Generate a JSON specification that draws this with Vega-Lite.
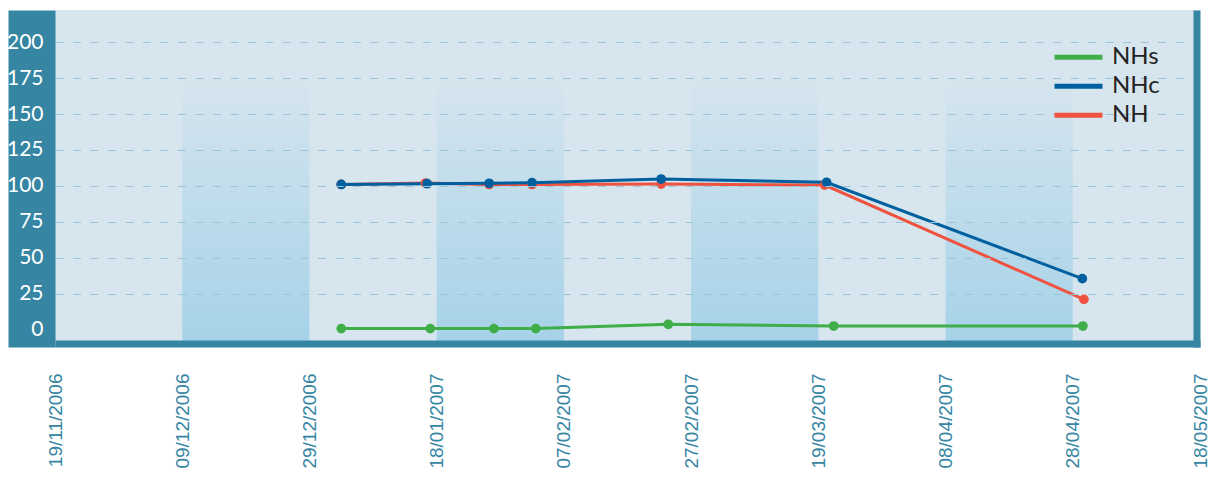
{
  "$schema": "https://vega.github.io/schema/vega-lite/v6.json",
  "autosize": "none",
  "width": 1145,
  "height": 337,
  "padding": {"left": 55, "top": 10, "right": 11, "bottom": 130},
  "background": "white",
  "config": {
    "view": {"fill": "#d7e5ee", "stroke": null},
    "axisX": {
      "offset": -3.5,
      "domain": true,
      "domainColor": "#3585a3",
      "domainWidth": 7,
      "ticks": false,
      "tickSize": 0,
      "grid": false,
      "format": "%d/%m/%Y",
      "labelAngle": -90,
      "labelColor": "#3585a3",
      "labelFont": "Liberation Sans",
      "labelFontSize": 19,
      "labelPadding": 29.5,
      "labelOverlap": false,
      "labelFlush": false,
      "labelBound": false
    }
  },
  "datasets": {
    "bands": [
      {"start": "2006-12-09T00:00", "end": "2006-12-29T00:00"},
      {"start": "2007-01-18T00:00", "end": "2007-02-07T00:00"},
      {"start": "2007-02-27T00:00", "end": "2007-03-19T00:00"},
      {"start": "2007-04-08T00:00", "end": "2007-04-28T00:00"}
    ],
    "series": [
      {"series": "NH", "date": "2007-01-03T00:00", "value": 101},
      {"series": "NH", "date": "2007-01-16T06:00", "value": 102},
      {"series": "NH", "date": "2007-01-26T06:00", "value": 101},
      {"series": "NH", "date": "2007-02-02T00:00", "value": 101},
      {"series": "NH", "date": "2007-02-22T07:00", "value": 101.3},
      {"series": "NH", "date": "2007-03-20T00:00", "value": 100.6},
      {"series": "NH", "date": "2007-04-29T18:00", "value": 21},
      {"series": "NHc", "date": "2007-01-03T00:00", "value": 101},
      {"series": "NHc", "date": "2007-01-16T12:00", "value": 101.5},
      {"series": "NHc", "date": "2007-01-26T06:00", "value": 101.8},
      {"series": "NHc", "date": "2007-02-02T00:00", "value": 102.2},
      {"series": "NHc", "date": "2007-02-22T07:00", "value": 104.8},
      {"series": "NHc", "date": "2007-03-20T07:00", "value": 102.5},
      {"series": "NHc", "date": "2007-04-29T12:00", "value": 35.4},
      {"series": "NHs", "date": "2007-01-03T00:00", "value": 0.6},
      {"series": "NHs", "date": "2007-01-17T00:00", "value": 0.6},
      {"series": "NHs", "date": "2007-01-27T00:00", "value": 0.6},
      {"series": "NHs", "date": "2007-02-02T14:00", "value": 0.6},
      {"series": "NHs", "date": "2007-02-23T10:00", "value": 3.6},
      {"series": "NHs", "date": "2007-03-21T10:00", "value": 2.4},
      {"series": "NHs", "date": "2007-04-29T14:00", "value": 2.4}
    ]
  },
  "resolve": {"axis": {"y": "independent"}},
  "layer": [
    {
      "data": {"name": "bands"},
      "mark": {
        "type": "rect",
        "fill": {
          "gradient": "linear",
          "x1": 0, "y1": 0, "x2": 0, "y2": 1,
          "stops": [
            {"offset": 0, "color": "#d7e5ee"},
            {"offset": 0.2, "color": "#d6e5ee"},
            {"offset": 1, "color": "#a5d2e8"}
          ]
        }
      },
      "encoding": {
        "x": {
          "field": "start", "type": "temporal",
          "scale": {
            "domain": [{"year": 2006, "month": 11, "date": 19}, {"year": 2007, "month": 5, "date": 18}],
            "nice": false
          },
          "axis": {
            "title": null,
            "zindex": 2,
            "values": [
              {"year": 2006, "month": 11, "date": 19},
              {"year": 2006, "month": 12, "date": 9},
              {"year": 2006, "month": 12, "date": 29},
              {"year": 2007, "month": 1, "date": 18},
              {"year": 2007, "month": 2, "date": 7},
              {"year": 2007, "month": 2, "date": 27},
              {"year": 2007, "month": 3, "date": 19},
              {"year": 2007, "month": 4, "date": 8},
              {"year": 2007, "month": 4, "date": 28},
              {"year": 2007, "month": 5, "date": 18}
            ]
          }
        },
        "x2": {"field": "end"}
      }
    },
    {
      "data": {"name": "series"},
      "mark": {"type": "line", "strokeWidth": 3, "interpolate": "linear"},
      "encoding": {
        "x": {
          "field": "date", "type": "temporal",
          "axis": {
            "title": null,
            "zindex": 2,
            "values": [
              {"year": 2006, "month": 11, "date": 19},
              {"year": 2006, "month": 12, "date": 9},
              {"year": 2006, "month": 12, "date": 29},
              {"year": 2007, "month": 1, "date": 18},
              {"year": 2007, "month": 2, "date": 7},
              {"year": 2007, "month": 2, "date": 27},
              {"year": 2007, "month": 3, "date": 19},
              {"year": 2007, "month": 4, "date": 8},
              {"year": 2007, "month": 4, "date": 28},
              {"year": 2007, "month": 5, "date": 18}
            ]
          }
        },
        "y": {
          "field": "value", "type": "quantitative",
          "scale": {"domain": [-12.2, 222.5], "nice": false, "zero": false},
          "axis": {
            "orient": "left",
            "offset": 23.5,
            "domain": true,
            "domainColor": "#3585a3",
            "domainWidth": 47,
            "ticks": false,
            "labels": false,
            "values": [0, 25, 50, 75, 100, 125, 150, 175, 200],
            "grid": true,
            "gridColor": "#9ac6db",
            "gridDash": [8, 9.5],
            "gridWidth": 1,
            "gridOpacity": {"condition": {"test": "datum.value === 0", "value": 0}, "value": 1},
            "title": null,
            "zindex": 1
          }
        },
        "color": {
          "field": "series", "type": "nominal",
          "scale": {"domain": ["NHs", "NHc", "NH"], "range": ["#3fae49", "#00609f", "#ef533f"]},
          "legend": {
            "orient": "none",
            "legendX": 997,
            "legendY": 32.75,
            "title": null,
            "padding": 0,
            "symbolType": "stroke",
            "symbolSize": 2304,
            "symbolStrokeWidth": 5,
            "labelFont": "Lato",
            "labelFontSize": 24,
            "labelColor": "#231f20",
            "labelOffset": 7,
            "clipHeight": 29,
            "rowPadding": 0,
            "zindex": 3
          }
        },
        "detail": {"field": "series"}
      }
    },
    {
      "data": {"name": "series"},
      "mark": {"type": "point", "filled": true, "opacity": 1, "size": 95},
      "encoding": {
        "x": {
          "field": "date", "type": "temporal",
          "axis": {
            "title": null,
            "zindex": 2,
            "values": [
              {"year": 2006, "month": 11, "date": 19},
              {"year": 2006, "month": 12, "date": 9},
              {"year": 2006, "month": 12, "date": 29},
              {"year": 2007, "month": 1, "date": 18},
              {"year": 2007, "month": 2, "date": 7},
              {"year": 2007, "month": 2, "date": 27},
              {"year": 2007, "month": 3, "date": 19},
              {"year": 2007, "month": 4, "date": 8},
              {"year": 2007, "month": 4, "date": 28},
              {"year": 2007, "month": 5, "date": 18}
            ]
          }
        },
        "y": {
          "field": "value", "type": "quantitative",
          "axis": {
            "orient": "right",
            "offset": -3.5,
            "domain": true,
            "domainColor": "#3585a3",
            "domainWidth": 7,
            "ticks": false,
            "tickSize": 0,
            "labels": true,
            "labelAlign": "right",
            "labelPadding": -1153.5,
            "labelColor": "white",
            "labelFont": "Lato",
            "labelFontSize": 21,
            "labelOverlap": false,
            "labelFlush": false,
            "labelBound": false,
            "values": [0, 25, 50, 75, 100, 125, 150, 175, 200],
            "grid": false,
            "title": null,
            "zindex": 2
          }
        },
        "color": {"field": "series", "type": "nominal", "legend": null}
      }
    }
  ]
}
